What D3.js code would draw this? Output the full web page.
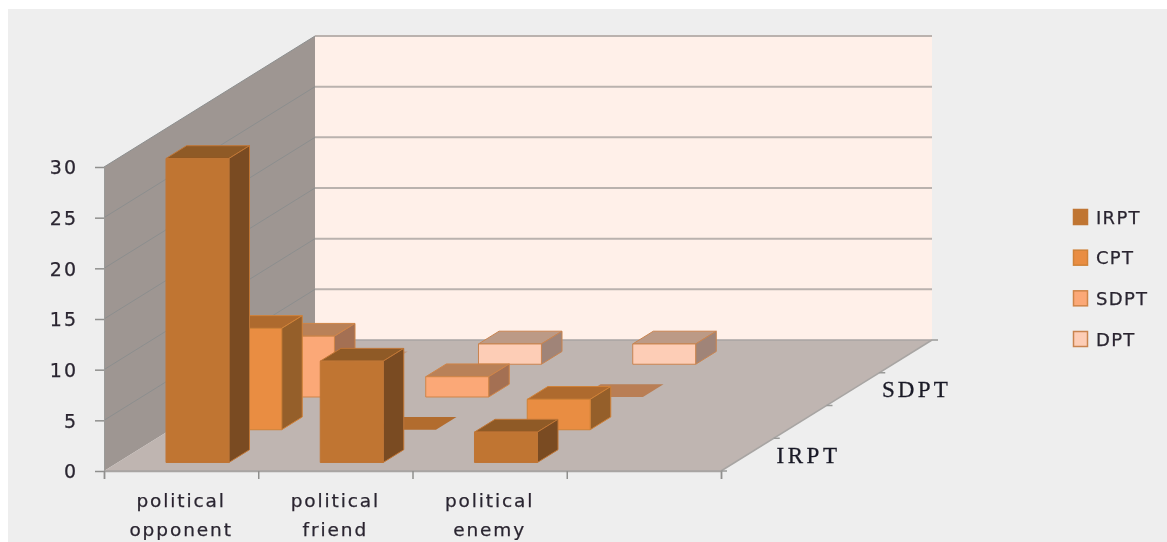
<!DOCTYPE html>
<html><head><meta charset="utf-8">
<script src="https://cdn.jsdelivr.net/npm/d3@7/dist/d3.min.js"></script>
<style>html,body{margin:0;background:#fff}svg{display:block}</style></head>
<body><div id="chart"></div>
<script>
const categories = ["political opponent", "political friend", "political enemy", ""];
const seriesNames = ["IRPT", "CPT", "SDPT", "DPT"];
const depthLabels = ["IRPT", "SDPT"];
const IRPT = [30, 10, 3, null];
const CPT = [10, 0, 3, null];
const SDPT = [6, 2, 0, null];
const DPT = [0, 2, 2, null];
const seriesValues = [IRPT, CPT, SDPT, DPT];
const yTicks = [0, 5, 10, 15, 20, 25, 30];
const frontColors = ["#c07433", "#e98d42", "#fba877", "#fdcdb6"];
const topColors = ["#8f5a26", "#ae6a2e", "#b98158", "#bc9a86"];
const sideColors = ["#7a4b20", "#955e2b", "#a47053", "#a08478"];
const plateColors = ["#8f5a26", "#b26c2f", "#b97e54", "#bc9a86"];
const strokeColors = ["#c07636", "#d08238", "#cf8448", "#c98450"];

const W = 1167, H = 542;
const svg = d3.select("#chart").append("svg").attr("width", W).attr("height", H);
svg.append("rect").attr("width", W).attr("height", H).attr("fill", "#fff");
svg.append("rect").attr("x", 8).attr("y", 9).attr("width", W - 8).attr("height", H - 9).attr("fill", "#eeeeee");
const soft = svg.append("defs").append("filter").attr("id", "soft")
  .attr("x", 0).attr("y", 0).attr("width", "100%").attr("height", "100%")
  .attr("filterUnits", "userSpaceOnUse");
soft.attr("width", W).attr("height", H);
soft.append("feGaussianBlur").attr("stdDeviation", 0.45);
const root = svg.append("g").attr("filter", "url(#soft)");

// projection
const x0 = 104, y0 = 471, dx = 52.75, dy = 32.75;
const catScale = d3.scaleLinear().domain([0, 4]).range([x0, 721]);
const valScale = d3.scaleLinear().domain([0, 30]).range([0, 304]);
const pt = (u, r, v) => [catScale(u) + r * dx, y0 - r * dy - valScale(v)];
const poly = (pts, fill, stroke, g = root) => g.append("polygon")
  .attr("points", pts.map(p => p.join(",")).join(" "))
  .attr("fill", fill).attr("stroke", stroke || "none");
const textStyle = sel => sel.attr("font-family", "DejaVu Sans").attr("fill", "#2a2530")
  .attr("stroke", "#2a2530").attr("stroke-width", 0.25);

// walls
const wall = root.append("g");
poly([pt(0,4,0), pt(4,4,0), pt(4,4,30), pt(0,4,30)], "#fff0e9", null, wall);
poly([pt(0,0,0), pt(0,4,0), pt(0,4,30), pt(0,0,30)], "#9e9692", null, wall);
poly([pt(0,0,0), pt(4,0,0), pt(4,4,0), pt(0,4,0)], "#bfb5b1", null, wall);
yTicks.forEach(t => {
  if (t > 0) {
    const a = pt(0,0,t), b = pt(0,4,t), c = pt(4,4,t);
    wall.append("line").attr("x1",a[0]).attr("y1",a[1]).attr("x2",b[0]).attr("y2",b[1]).attr("stroke","#8c8e8e").attr("stroke-width",1);
    wall.append("line").attr("x1",b[0]).attr("y1",b[1]).attr("x2",c[0]).attr("y2",c[1]).attr("stroke","#bab2ae").attr("stroke-width",2);
  }
});
// floor edges
[[pt(0,0,0),pt(4,0,0)],[pt(0,4,0),pt(4,4,0)],[pt(4,0,0),pt(4,4,0)]].forEach(([a,b]) =>
  wall.append("line").attr("x1",a[0]).attr("y1",a[1]).attr("x2",b[0]).attr("y2",b[1]).attr("stroke","#a8a5a3").attr("stroke-width",1.5));

// axes
const yAxisScale = d3.scaleLinear().domain([0, 30]).range([y0, y0 - 304]);
const yAxis = root.append("g").attr("transform", `translate(${x0},0)`)
  .call(d3.axisLeft(yAxisScale).tickValues(yTicks).tickSize(9).tickPadding(17));
yAxis.select(".domain").attr("stroke", "#9a9a98");
yAxis.selectAll(".tick line").attr("stroke", "#8f8f8d").attr("stroke-width", 1.5);
yAxis.selectAll("text").call(textStyle).attr("font-size", 19).attr("letter-spacing", 2).attr("dy", "0.36em");

const xAxis = root.append("g").attr("transform", `translate(0,${y0})`)
  .call(d3.axisBottom(catScale).tickValues([0,1,2,3,4]).tickSize(8).tickFormat(""));
xAxis.select(".domain").attr("stroke", "#a8a5a3").attr("stroke-width", 1.5);
xAxis.selectAll(".tick line").attr("stroke", "#8f8f8d").attr("stroke-width", 1.5);

categories.forEach((c, i) => {
  if (!c) return;
  const parts = c.split(" ");
  const t = root.append("text").call(textStyle).attr("font-size", 18.5)
    .attr("letter-spacing", 1.9).attr("text-anchor", "middle");
  parts.forEach((p, k) => t.append("tspan").attr("x", catScale(i + 0.5)).attr("y", 507 + k * 28.5).text(p));
});

// depth ticks + labels
[0,1,2,3,4].forEach(r => {
  const p = pt(4, r, 0);
  root.append("line").attr("x1",p[0]).attr("y1",p[1]).attr("x2",p[0]+6).attr("y2",p[1]).attr("stroke","#9a9a98").attr("stroke-width",1.5);
});
depthLabels.forEach((d, i) => {
  const r = seriesNames.indexOf(d);
  const p = pt(4, r + 0.5, 0);
  root.append("text").attr("x", p[0] + 29).attr("y", p[1] + 8).attr("font-family", "Liberation Serif")
    .attr("font-size", 23).attr("fill", "#1a1a26").attr("stroke", "#1a1a26").attr("stroke-width", 0.3)
    .attr("letter-spacing", i === 0 ? 3.6 : 3.2).text(d);
});

// bars
const r0 = 0.26, rD = 0.39, u0 = 0.313, uW = 0.408;
seriesNames.map((s, i) => i).reverse().forEach(si => {
  categories.forEach((c, ci) => {
    const v = seriesValues[si][ci];
    if (v === null) return;
    const u1 = ci + u0, u2 = u1 + uW, ra = si + r0, rb = ra + rD;
    const st = strokeColors[si];
    if (v === 0) {
      poly([pt(u1,ra,0), pt(u2,ra,0), pt(u2,rb,0), pt(u1,rb,0)], plateColors[si], "none");
      return;
    }
    poly([pt(u1,ra,v), pt(u2,ra,v), pt(u2,rb,v), pt(u1,rb,v)], topColors[si], st);
    poly([pt(u2,ra,0), pt(u2,rb,0), pt(u2,rb,v), pt(u2,ra,v)], sideColors[si], st);
    poly([pt(u1,ra,0), pt(u2,ra,0), pt(u2,ra,v), pt(u1,ra,v)], frontColors[si], st);
  });
});

// legend
const legendY = d3.scalePoint().domain(seriesNames).range([217, 339]);
seriesNames.forEach((s, i) => {
  const y = legendY(s);
  root.append("rect").attr("x", 1073.5).attr("y", y - 7.5).attr("width", 14).attr("height", 15)
    .attr("fill", frontColors[i]).attr("stroke", strokeColors[i]).attr("stroke-width", 1.5);
  root.append("text").call(textStyle).attr("x", 1096).attr("y", y + 6.5).attr("font-size", 18)
    .attr("letter-spacing", 1.3).text(s);
});
</script></body></html>
